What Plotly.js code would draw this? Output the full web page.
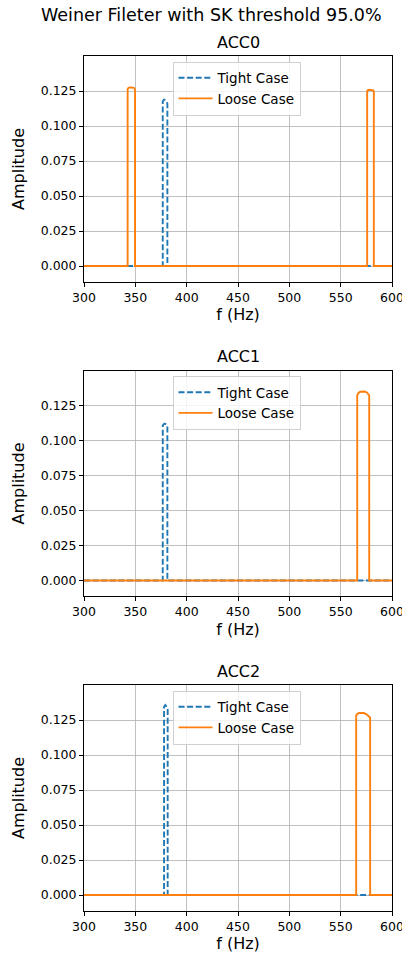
<!DOCTYPE html>
<html>
<head>
<meta charset="utf-8">
<script src="https://cdn.plot.ly/plotly-3.0.1.min.js"></script>
<style>html,body{margin:0;padding:0;background:#fff;}</style>
</head>
<body>
<div id="chart" style="width:402px;height:955px;"></div>
<script>
// ---- data ----
const titles = ["ACC0", "ACC1", "ACC2"];
const seriesNames = ["Tight Case", "Loose Case"];
const xTicks = [300, 350, 400, 450, 500, 550, 600];
const yTicks = [0, 0.025, 0.05, 0.075, 0.1, 0.125];

const acc0TightX = [300, 376.7, 376.7, 377.2, 377.9, 378.8, 379.8, 380.7, 381.2, 381.2, 600];
const acc0TightY = [0, 0, 0.1175, 0.1186, 0.1188, 0.1185, 0.1178, 0.1170, 0.1160, 0, 0];
const acc0LooseX = [300, 342.5, 342.5, 343.2, 344.4, 346.1, 347.8, 349.0, 349.7, 349.7, 575.8, 575.8, 576.5, 577.7, 579.1, 580.5, 581.6, 582.3, 582.3, 600];
const acc0LooseY = [0, 0, 0.1262, 0.1272, 0.1275, 0.1276, 0.1274, 0.1270, 0.1260, 0, 0, 0.1250, 0.1257, 0.1259, 0.1259, 0.1258, 0.1255, 0.1248, 0, 0];

const acc1TightX = [300, 376.7, 376.7, 377.3, 378.2, 379.2, 380.2, 381.2, 381.2, 600];
const acc1TightY = [0, 0, 0.1108, 0.1117, 0.1120, 0.1119, 0.1114, 0.1106, 0, 0];
const acc1LooseX = [300, 566.1, 566.1, 567.2, 569.0, 571.2, 573.4, 575.6, 577.0, 577.8, 577.8, 600];
const acc1LooseY = [0, 0, 0.1322, 0.1338, 0.1348, 0.1351, 0.1350, 0.1343, 0.1333, 0.1322, 0, 0];

const acc2TightX = [300, 378.0, 378.0, 378.5, 379.2, 380.0, 380.8, 381.5, 381.5, 600];
const acc2TightY = [0, 0, 0.1345, 0.1356, 0.1357, 0.1350, 0.1340, 0.1328, 0, 0];
const acc2LooseX = [300, 565.1, 565.1, 566.2, 568.0, 570.2, 572.5, 574.8, 576.8, 578.0, 578.7, 578.7, 600];
const acc2LooseY = [0, 0, 0.1282, 0.1294, 0.1300, 0.1302, 0.1300, 0.1293, 0.1283, 0.1274, 0.1268, 0, 0];

const tightX = [acc0TightX, acc1TightX, acc2TightX];
const tightY = [acc0TightY, acc1TightY, acc2TightY];
const looseX = [acc0LooseX, acc1LooseX, acc2LooseX];
const looseY = [acc0LooseY, acc1LooseY, acc2LooseY];

// ---- layout geometry ----
const W = 402, H = 955;
const xDom = [84 / W, 392 / W];
const yTops = [56.3, 370.8, 685.3];
const yBots = [281.7, 596.2, 910.7];
const legendTops = [61.5, 376, 690.5];
const BLUE = "#1f77b4", ORANGE = "#ff7f0e";
const FONT = "DejaVu Sans, sans-serif";

const traces = [];
const layout = {
  width: W, height: H,
  margin: {l: 0, r: 0, t: 0, b: 0},
  paper_bgcolor: "#fff", plot_bgcolor: "#fff",
  font: {family: FONT, color: "#000", size: 12.5},
  annotations: [{
    text: "Weiner Fileter with SK threshold 95.0%",
    xref: "paper", yref: "paper", x: 211 / W, y: 1 - 15 / H,
    xanchor: "center", yanchor: "middle", showarrow: false,
    font: {family: FONT, size: 17.5, color: "#000"}
  }]
};

for (let i = 0; i < 3; i++) {
  const sfx = i === 0 ? "" : String(i + 1);
  const lg = "legend" + sfx;
  traces.push({
    x: tightX[i], y: tightY[i], type: "scatter", mode: "lines",
    name: seriesNames[0], xaxis: "x" + sfx, yaxis: "y" + sfx, legend: lg,
    line: {color: BLUE, width: 1.9, dash: "6px,2.6px"}
  });
  traces.push({
    x: looseX[i], y: looseY[i], type: "scatter", mode: "lines",
    name: seriesNames[1], xaxis: "x" + sfx, yaxis: "y" + sfx, legend: lg,
    line: {color: ORANGE, width: 1.9}
  });
  const yDom = [1 - yBots[i] / H, 1 - yTops[i] / H];
  layout["xaxis" + sfx] = {
    domain: xDom, anchor: "y" + sfx, range: [300, 600],
    tickvals: xTicks, ticktext: xTicks.map(String), ticklabeloverflow: "allow",
    ticks: "outside", ticklen: 4, tickwidth: 1, tickcolor: "#000",
    showline: true, mirror: true, linecolor: "#000", linewidth: 1,
    showgrid: true, gridcolor: "#b0b0b0", gridwidth: 0.8, zeroline: false,
    tickfont: {family: FONT, size: 12.5, color: "#000"},
    title: {text: "f (Hz)", font: {family: FONT, size: 16, color: "#000"}, standoff: 5}
  };
  layout["yaxis" + sfx] = {
    domain: yDom, anchor: "x" + sfx, range: [-0.0112, 0.1498],
    tickvals: yTicks, ticktext: yTicks.map(v => v.toFixed(3)), ticklabeloverflow: "allow",
    ticks: "outside", ticklen: 4, tickwidth: 1, tickcolor: "#000",
    showline: true, mirror: true, linecolor: "#000", linewidth: 1,
    showgrid: true, gridcolor: "#b0b0b0", gridwidth: 0.8, zeroline: false,
    tickfont: {family: FONT, size: 12.5, color: "#000"},
    title: {text: "Amplitude", font: {family: FONT, size: 16, color: "#000"}, standoff: 12}
  };
  layout[lg] = {
    x: 172.5 / W, y: 1 - legendTops[i] / H, xanchor: "left", yanchor: "top",
    bgcolor: "rgba(255,255,255,0.8)", bordercolor: "#d0d0d0", borderwidth: 1,
    font: {family: FONT, size: 13.5, color: "#000"},
    tracegroupgap: 0, itemwidth: 34
  };
  layout.annotations.push({
    text: titles[i], xref: "paper", yref: "paper",
    x: (xDom[0] + xDom[1]) / 2, y: 1 - (yTops[i] - 14) / H,
    xanchor: "center", yanchor: "middle", showarrow: false,
    font: {family: FONT, size: 16, color: "#000"}
  });
}

Plotly.newPlot("chart", traces, layout, {displayModeBar: false, staticPlot: true});
</script>
</body>
</html>
